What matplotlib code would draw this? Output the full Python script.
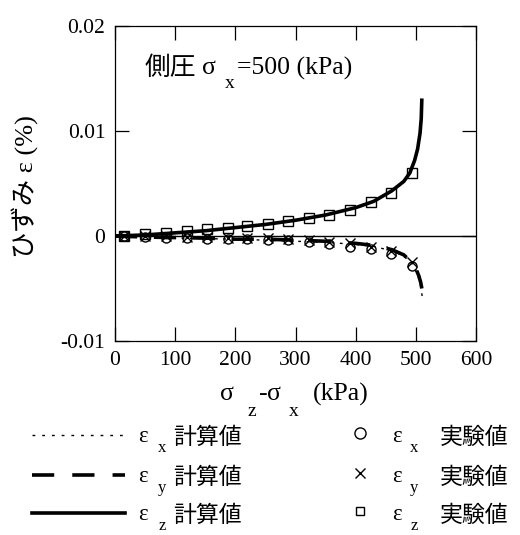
import matplotlib
matplotlib.use('Agg')
import matplotlib.pyplot as plt
from matplotlib.lines import Line2D

plt.rcParams['font.family'] = ['Liberation Serif', 'Noto Sans CJK JP']
plt.rcParams['lines.scale_dashes'] = False

# ---- data ----
# calculated curves
ex_calc_x = [0, 50, 100, 150, 200, 250, 300, 350, 400, 430, 460, 480, 493, 500, 505, 508, 510, 511]
ex_calc_y = [0, -0.0001, -0.0002, -0.00025, -0.0003, -0.0004, -0.0005, -0.0006, -0.0008,
             -0.001, -0.0014, -0.0019, -0.0026, -0.0033, -0.0041, -0.0048, -0.0055, -0.006]
ey_calc_x = [0, 50, 100, 150, 200, 250, 300, 350, 400, 430, 460, 480, 493, 500, 505, 508, 510]
ey_calc_y = [0, -0.0001, -0.00015, -0.0002, -0.0003, -0.0003, -0.0004, -0.0005, -0.0007,
             -0.0009, -0.0013, -0.0018, -0.0025, -0.0031, -0.0038, -0.0044, -0.005]
ez_calc_x = [0, 50, 100, 150, 200, 250, 300, 350, 400, 430, 460, 480, 490, 498, 503, 507, 509, 510]
ez_calc_y = [0, 0.0001, 0.0003, 0.0005, 0.0008, 0.0011, 0.0015, 0.002, 0.0027, 0.0033,
             0.0043, 0.0052, 0.006, 0.0072, 0.0083, 0.0098, 0.0112, 0.0131]
# experimental points
exp_x = [15, 50, 85, 120, 153, 187, 220, 254, 288, 322, 356, 390, 425, 459, 493]
ex_exp = [-0.00003, -0.0001, -0.00015, -0.0002, -0.0003, -0.0003, -0.0003, -0.0004, -0.0004,
          -0.0006, -0.0008, -0.001, -0.0012, -0.00175, -0.0029]
ey_exp = [0, -0.00003, 0, -0.0001, -0.0001, -0.00015, -0.00015, -0.00016, -0.00025,
          -0.00035, -0.0006, -0.0007, -0.001, -0.0014, -0.0025]
ez_exp = [0, 0.00016, 0.00032, 0.00048, 0.00064, 0.00076, 0.00096, 0.0011, 0.0014,
          0.0017, 0.002, 0.0025, 0.0032, 0.0041, 0.006]

xticks = [0, 100, 200, 300, 400, 500, 600]
yticks = [-0.01, 0, 0.01, 0.02]
ytick_labels = ['-0.01', '0', '0.01', '0.02']

W, H = 520, 535
fig = plt.figure(figsize=(W / 100, H / 100), dpi=100)

def fx(px):
    return px / W

def fy(py):
    return 1 - py / H

ax = fig.add_axes([fx(115), fy(341), (476 - 115) / W, (341 - 26) / H])
ax.set_xlim(0, 600)
ax.set_ylim(-0.01, 0.02)
ax.axhline(0, color='black', lw=1.0)

ax.plot(ex_calc_x, ex_calc_y, color='black', lw=1.0, dashes=(2, 4))
ax.plot(ey_calc_x, ey_calc_y, color='black', lw=2.6, dashes=(16, 12))
ax.plot(ez_calc_x, ez_calc_y, color='black', lw=2.6, solid_capstyle='butt')

ax.plot(exp_x, ex_exp, ls='none', marker='o', ms=6.5, mfc='none', mec='black', mew=1.0)
ax.plot(exp_x, ey_exp, ls='none', marker='x', ms=7, mec='black', mew=1.0)
ax.plot(exp_x, ez_exp, ls='none', marker='s', ms=7.5, mfc='none', mec='black', mew=1.0)

ax.set_xticks(xticks)
ax.set_xticklabels([str(t) for t in xticks])
ax.set_yticks(yticks)
ax.set_yticklabels(ytick_labels)
ax.tick_params(direction='in', length=10, width=0.9, top=True, right=True,
               labelsize=15.5, pad=7)
for s in ax.spines.values():
    s.set_linewidth(0.9)

# title inside axes
fs_main = 18.5
fs_sub = 14
fig.text(fx(145), fy(68), '側圧', fontsize=fs_main, ha='left', va='center',
         family=['Noto Sans CJK JP'])
fig.text(fx(209), fy(68), 'σ', fontsize=fs_main, ha='center', va='center')
fig.text(fx(230), fy(84), 'x', fontsize=fs_sub, ha='center', va='center')
fig.text(fx(237), fy(68), '=500 (kPa)', fontsize=fs_main, ha='left', va='center')

# y label
fig.text(fx(25), fy(187), 'ひずみ ε (%)', fontsize=19, rotation=90,
         ha='center', va='center')

# x label
fig.text(fx(227), fy(394), 'σ', fontsize=fs_main, ha='center', va='center')
fig.text(fx(252), fy(411), 'z', fontsize=fs_sub, ha='center', va='center')
fig.text(fx(263), fy(394), '-', fontsize=fs_main, ha='center', va='center')
fig.text(fx(274), fy(394), 'σ', fontsize=fs_main, ha='center', va='center')
fig.text(fx(294), fy(411), 'x', fontsize=fs_sub, ha='center', va='center')
fig.text(fx(313), fy(394), '(kPa)', fontsize=fs_main, ha='left', va='center')

# legend
rows = [437, 477, 515]
subs = ['x', 'y', 'z']
line_styles = [dict(lw=1.0, dashes=(2, 5)), dict(lw=2.6, dashes=(16, 13)),
               dict(lw=2.6)]
markers = [dict(marker='o', ms=8, mfc='none', mew=1.0),
           dict(marker='x', ms=7.5, mew=1.0),
           dict(marker='s', ms=6, mfc='none', mew=1.0)]
fs_leg = 16.5
for r, sub, lsd, mk in zip(rows, subs, line_styles, markers):
    fig.add_artist(Line2D([fx(32), fx(125)], [fy(r - 2), fy(r - 2)], color='black',
                          transform=fig.transFigure, **lsd))
    fig.text(fx(143), fy(r), 'ε', fontsize=fs_leg, ha='center', va='center')
    fig.text(fx(162), fy(r + 11), sub, fontsize=12, ha='center', va='center')
    fig.text(fx(173), fy(r), '計算値', fontsize=fs_leg, ha='left', va='center',
             family=['Noto Sans CJK JP'])
    fig.add_artist(Line2D([fx(360)], [fy(r - 4)], color='black', ls='none',
                          mec='black', transform=fig.transFigure, **mk))
    fig.text(fx(397), fy(r), 'ε', fontsize=fs_leg, ha='center', va='center')
    fig.text(fx(414), fy(r + 11), sub, fontsize=12, ha='center', va='center')
    fig.text(fx(440), fy(r), '実験値', fontsize=fs_leg, ha='left', va='center',
             family=['Noto Sans CJK JP'])

fig.savefig('out.png', dpi=100)
